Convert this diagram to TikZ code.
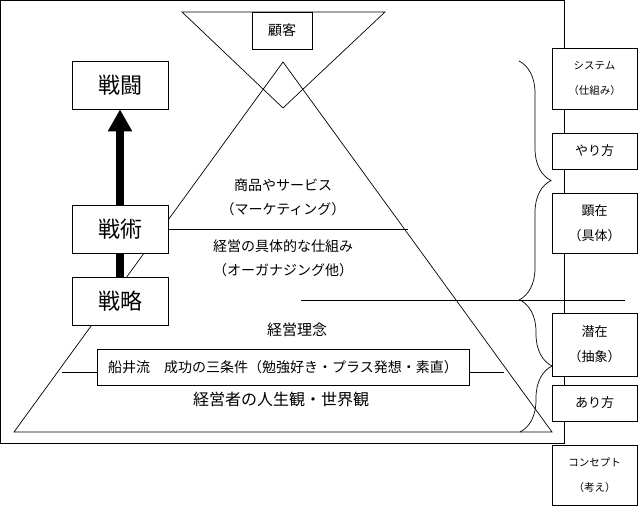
\documentclass[tikz,border=0pt]{standalone}
\usepackage{fontspec}
\setmainfont{Noto Sans CJK JP}
\usetikzlibrary{arrows.meta,decorations.pathreplacing}
\begin{document}
\begin{tikzpicture}[x=1pt,y=-1pt,line width=0.7pt,
  box/.style={draw,fill=white,inner sep=0pt,align=center},
  bigbox/.style={box,minimum width=96pt,minimum height=48pt,font=\fontsize{22}{24}\selectfont},
  sidebox/.style={box,minimum width=85pt,font=\fontsize{13}{25}\selectfont},
  smallside/.style={sidebox,font=\fontsize{10.5}{25}\selectfont},
  txt/.style={align=center,font=\fontsize{14}{24}\selectfont},
  brc/.style={decorate,decoration={brace,amplitude=32pt}},
  fat/.style={line width=8pt}]
  \useasboundingbox (0,0) rectangle (640,508);
  % frame, funnel and pyramid
  \draw (0.5,0.5) rectangle (564,443);
  \draw (182,12) -- (385,12) -- (283,108) -- cycle;
  \draw (283,62) -- (552,432) -- (14,432) -- cycle;
  % boxes
  \node[box,minimum width=60pt,minimum height=37pt,font=\fontsize{14}{16}\selectfont] (customer) at (282,30.5) {顧客};
  \node[bigbox] (battle)   at (120,85)  {戦闘};
  \node[bigbox] (tactics)  at (120,229) {戦術};
  \node[bigbox] (strategy) at (120,301) {戦略};
  \node[box,minimum width=372pt,minimum height=36pt,font=\fontsize{14}{16}\selectfont] (funai) at (283,367)
    {船井流　成功の三条件（勉強好き・プラス発想・素直）};
  % texts in the pyramid
  \node[txt] (goods) at (283,197.5) {商品やサービス\\（マーケティング）};
  \node[txt] (org)   at (283,258.5) {経営の具体的な仕組み\\（オーガナジング他）};
  \node[font=\fontsize{15}{17}\selectfont] (creed) at (297,330) {経営理念};
  \node[font=\fontsize{16}{18}\selectfont] (view)  at (281,399) {経営者の人生観・世界観};
  % lines
  \coordinate (mkt) at (408,229);
  \coordinate (la) at (301,300);
  \coordinate (lb) at (625,300);
  \coordinate (fl) at (62,372);
  \coordinate (fr) at (504,372);
  \draw (tactics.east) -- (mkt);
  \draw (la) -- (lb);
  \draw (fl) -- (fl -| funai.west);
  \draw (fr) -- (fr -| funai.east);
  % right column
  \node[smallside,minimum height=61pt] (system)  at (594.5,78.5) {システム\\（仕組み）};
  \node[sidebox,minimum height=36pt]   (way)     at (594.5,151)  {やり方};
  \node[sidebox,minimum height=60pt]   (visible) at (594.5,223)  {顕在\\（具体）};
  \node[sidebox,minimum height=63pt]   (latent)  at (594.5,344.5) {潜在\\（抽象）};
  \node[sidebox,minimum height=36pt]   (being)   at (594.5,403)  {あり方};
  \node[smallside,minimum height=60pt] (concept) at (594.5,475)  {コンセプト\\（考え）};
  % braces
  \coordinate (ua) at (519,61);
  \coordinate (ub) at (519,300);
  \coordinate (da) at (520,300);
  \coordinate (db) at (520,432);
  \draw[brc] (ua) -- (ub);
  \draw[brc] (da) -- (db);
  % arrow
  \draw[fat] (strategy.north) -- (tactics.south);
  \draw[fat,-{Triangle[width=23pt,length=22pt]}] (tactics.north) -- (battle.south);
\end{tikzpicture}
\end{document}
